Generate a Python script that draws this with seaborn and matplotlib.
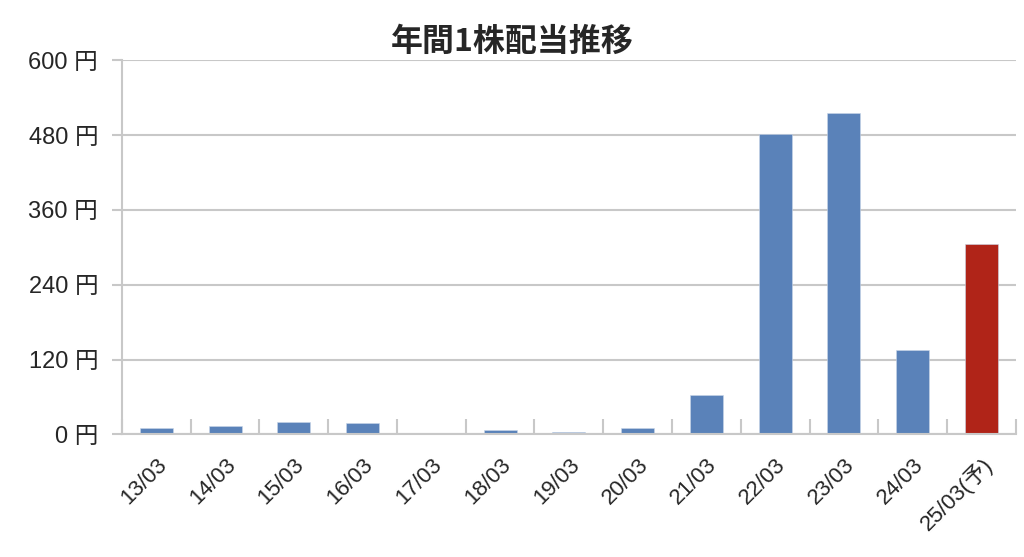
import pandas as pd
import matplotlib.pyplot as plt
import seaborn as sns
from matplotlib.ticker import MultipleLocator, FixedLocator

# Daten
years = ["13/03", "14/03", "15/03", "16/03", "17/03", "18/03", "19/03",
         "20/03", "21/03", "22/03", "23/03", "24/03", "25/03(予)"]
dividend = [10, 14, 20, 18, 0, 7, 4, 10, 64, 481, 515, 136, 305]
kind = ["実績"] * 12 + ["予想"]

df = pd.DataFrame({"year": years, "dividend": dividend, "kind": kind})

sns.set_theme(style="white")
plt.rcParams["font.family"] = ["Liberation Sans", "Noto Sans CJK JP", "DejaVu Sans"]

fig, ax = plt.subplots(figsize=(10.24, 5.57), dpi=100)
fig.subplots_adjust(left=0.119, right=0.992, top=0.892, bottom=0.22)

sns.barplot(data=df, x="year", y="dividend", hue="kind",
            palette={"実績": "#5a82b9", "予想": "#b02418"},
            dodge=False, width=0.48, legend=False, ax=ax, saturation=1,
            edgecolor="#c9d6e8", linewidth=0.4)

ax.set_ylim(0, 600)
ax.set_xlim(-0.5, len(years) - 0.5)
ax.yaxis.set_major_locator(MultipleLocator(120))
ax.set_yticklabels([f"{int(v)} 円" for v in ax.get_yticks()], fontsize=17)
ax.yaxis.grid(True, color="#c8c8c8", linewidth=1.5)
ax.set_axisbelow(True)

# Trennstriche zwischen den Kategorien
ax.xaxis.set_minor_locator(FixedLocator([i + 0.5 for i in range(-1, len(years))]))
ax.tick_params(axis="x", which="minor", direction="in", length=11,
               width=1.5, color="#c8c8c8", bottom=True)
ax.tick_params(axis="x", which="major", length=0, pad=14)
ax.tick_params(axis="y", which="major", direction="out", length=7,
               width=1.5, color="#c8c8c8", left=True, pad=10)

ax.set_xticks(range(len(years)))
ax.set_xticklabels(years, rotation=45, ha="right", rotation_mode="anchor",
                   fontsize=16)

for side in ["top", "right"]:
    ax.spines[side].set_visible(False)
for side in ["left", "bottom"]:
    ax.spines[side].set_color("#c8c8c8")
    ax.spines[side].set_linewidth(1.5)

ax.set_xlabel("")
ax.set_ylabel("")
fig.suptitle("年間1株配当推移", x=0.5, y=0.925, va="center", fontsize=23,
             fontweight="bold", family=["Noto Sans CJK JP", "DejaVu Sans"])

plt.savefig("out.png", dpi=100)
